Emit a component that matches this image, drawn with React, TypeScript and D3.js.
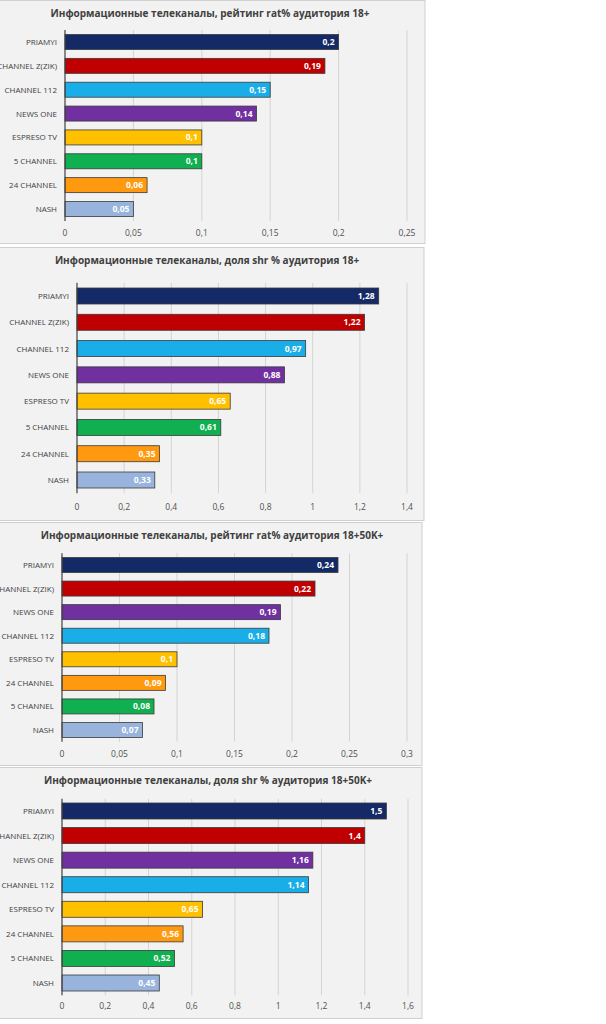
import React from 'react';
import * as d3 from 'd3';

const COLORS: Record<string, string> = {
  'PRIAMYI': '#142a66',
  'CHANNEL  Z(ZIK)': '#c00000',
  'CHANNEL  112': '#1aaee8',
  'NEWS ONE': '#7030a0',
  'ESPRESO TV': '#ffc000',
  '5 CHANNEL': '#10b050',
  '24 CHANNEL': '#ff9a10',
  'NASH': '#98b3dc',
};

const cats1 = ['PRIAMYI', 'CHANNEL  Z(ZIK)', 'CHANNEL  112', 'NEWS ONE', 'ESPRESO TV', '5 CHANNEL', '24 CHANNEL', 'NASH'];
const vals1 = [0.2, 0.19, 0.15, 0.14, 0.1, 0.1, 0.06, 0.05];
const ticks1 = [0, 0.05, 0.1, 0.15, 0.2, 0.25];

const cats2 = cats1;
const vals2 = [1.28, 1.22, 0.97, 0.88, 0.65, 0.61, 0.35, 0.33];
const ticks2 = [0, 0.2, 0.4, 0.6, 0.8, 1, 1.2, 1.4];

const cats3 = ['PRIAMYI', 'CHANNEL  Z(ZIK)', 'NEWS ONE', 'CHANNEL  112', 'ESPRESO TV', '24 CHANNEL', '5 CHANNEL', 'NASH'];
const vals3 = [0.24, 0.22, 0.19, 0.18, 0.1, 0.09, 0.08, 0.07];
const ticks3 = [0, 0.05, 0.1, 0.15, 0.2, 0.25, 0.3];

const cats4 = cats3;
const vals4 = [1.5, 1.4, 1.16, 1.14, 0.65, 0.56, 0.52, 0.45];
const ticks4 = [0, 0.2, 0.4, 0.6, 0.8, 1, 1.2, 1.4, 1.6];

const titles = [
  'Информационные телеканалы, рейтинг rat% аудитория 18+',
  'Информационные телеканалы, доля shr % аудитория 18+',
  'Информационные телеканалы, рейтинг rat% аудитория 18+50K+',
  'Информационные телеканалы, доля shr % аудитория 18+50K+',
];

const fmt = (v: number) => String(v).replace('.', ',');

interface PanelProps {
  top: number; height: number; width: number; title: string; titleX: number;
  cats: string[]; vals: number[]; ticks: number[];
  x0: number; x1: number; yFirst: number; yLast: number; tickY: number; barH: number;
}

const Panel: React.FC<PanelProps> = (p) => {
  const x = d3.scaleLinear().domain([0, p.ticks[p.ticks.length - 1]]).range([p.x0, p.x1]);
  const step = (p.yLast - p.yFirst) / (p.cats.length - 1);
  const y = d3.scalePoint<string>().domain(p.cats).range([p.yFirst, p.yLast]);
  return (
    <g transform={`translate(0,${p.top})`}>
      <rect x={-1} y={0.5} width={p.width} height={p.height} fill="#f2f2f2" stroke="#d0d0d0" />
      <text x={p.titleX} y={17} textAnchor="middle" fontSize={10} fontWeight="bold" fill="#404040">{p.title}</text>
      {p.ticks.slice(1).map(t => (
        <line key={t} x1={x(t)} x2={x(t)} y1={p.yFirst - step / 2} y2={p.yLast + step / 2} stroke="#d4d4d4" />
      ))}
      {p.cats.map((c, i) => {
        const yy = y(c)! - p.barH / 2;
        const w = x(p.vals[i]) - x(0);
        return (
          <g key={c}>
            <rect x={x(0)} y={yy} width={w} height={p.barH} fill={COLORS[c]} stroke="#3a3a3a" strokeWidth={0.8} />
            <text x={x(p.vals[i]) - 4} y={y(c)! + 3} textAnchor="end" fontSize={8.5} fontWeight="bold" fill="#fff">{fmt(p.vals[i])}</text>
            <text x={p.x0 - 8} y={y(c)! + 3} textAnchor="end" fontSize={8} fill="#404040">{c}</text>
          </g>
        );
      })}
      <line x1={x(0)} x2={x(0)} y1={p.yFirst - step / 2} y2={p.yLast + step / 2} stroke="#404040" strokeWidth={1.2} />
      {p.ticks.map(t => (
        <text key={t} x={x(t)} y={p.tickY} textAnchor="middle" fontSize={8.5} fill="#505050">{fmt(t)}</text>
      ))}
    </g>
  );
};

export default function App() {
  return (
    <div style={{ position: 'absolute', left: 0, top: 0, width: 606, height: 1024, background: '#fff' }}>
      <svg width={606} height={1024} style={{ fontFamily: '"Open Sans", sans-serif', display: 'block' }}>
        <Panel top={0} height={243} width={426} title={titles[0]} titleX={210} cats={cats1} vals={vals1} ticks={ticks1}
          x0={65} x1={407} yFirst={42} yLast={209} tickY={236} barH={15} />
        <Panel top={247} height={273} width={425} title={titles[1]} titleX={207} cats={cats2} vals={vals2} ticks={ticks2}
          x0={77} x1={407} yFirst={49} yLast={233} tickY={263} barH={16} />
        <Panel top={522} height={243} width={423} title={titles[2]} titleX={212} cats={cats3} vals={vals3} ticks={ticks3}
          x0={62} x1={407} yFirst={43} yLast={208} tickY={235} barH={15} />
        <Panel top={767} height={251} width={423} title={titles[3]} titleX={208} cats={cats4} vals={vals4} ticks={ticks4}
          x0={62} x1={408} yFirst={44} yLast={216} tickY={242} barH={16} />
      </svg>
    </div>
  );
}
